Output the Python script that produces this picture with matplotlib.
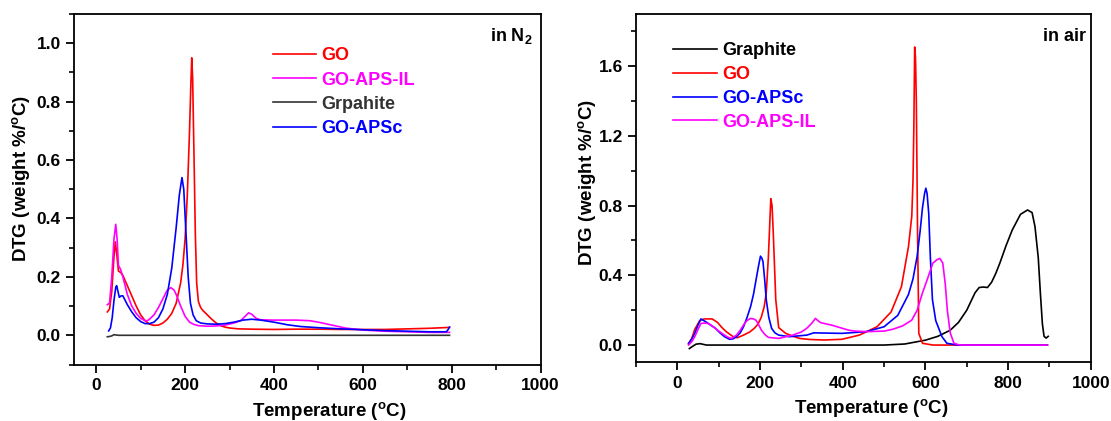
import numpy as np
import matplotlib.pyplot as plt
from matplotlib.ticker import MultipleLocator

plt.rcParams["font.family"] = ["Liberation Sans", "DejaVu Sans"]
plt.rcParams["font.weight"] = "bold"
plt.rcParams["mathtext.fontset"] = "custom"
plt.rcParams["mathtext.rm"] = "Liberation Sans:bold"
plt.rcParams["mathtext.bf"] = "Liberation Sans:bold"
plt.rcParams["mathtext.it"] = "Liberation Sans:bold"
plt.rcParams["mathtext.default"] = "rm"

# ---- in N2 ----
n2_go_t = [25, 30, 35, 40, 43, 46, 50, 55, 60, 70, 80, 90, 100, 110, 120, 130, 140, 150,
           160, 170, 180, 190, 195, 200, 205, 210, 213, 215, 217, 220, 223, 226, 230, 235,
           240, 250, 260, 270, 280, 290, 300, 320, 350, 400, 450, 500, 550, 600, 650, 700,
           750, 795]
n2_go_y = [0.08, 0.09, 0.15, 0.27, 0.32, 0.28, 0.22, 0.215, 0.205, 0.17, 0.135, 0.10, 0.07,
           0.05, 0.038, 0.034, 0.035, 0.042, 0.055, 0.075, 0.11, 0.18, 0.24, 0.33, 0.48, 0.70,
           0.86, 0.95, 0.88, 0.62, 0.35, 0.18, 0.115, 0.095, 0.085, 0.07, 0.055, 0.042, 0.033,
           0.028, 0.025, 0.022, 0.021, 0.02, 0.021, 0.021, 0.02, 0.02, 0.02, 0.022, 0.024, 0.027]

n2_il_t = [25, 30, 35, 40, 44, 47, 50, 55, 60, 65, 70, 80, 90, 100, 110, 115, 120, 130, 140,
           150, 160, 168, 175, 180, 190, 200, 210, 220, 230, 250, 270, 290, 310, 325, 335, 343,
           350, 360, 370, 400, 450, 480, 500, 530, 560, 600, 650, 700, 750, 795]
n2_il_y = [0.105, 0.11, 0.20, 0.33, 0.38, 0.33, 0.24, 0.225, 0.20, 0.17, 0.14, 0.10, 0.075,
           0.058, 0.05, 0.05, 0.055, 0.07, 0.095, 0.125, 0.155, 0.163, 0.155, 0.14, 0.10, 0.065,
           0.045, 0.037, 0.033, 0.031, 0.032, 0.035, 0.042, 0.05, 0.065, 0.077, 0.072, 0.058,
           0.053, 0.052, 0.052, 0.05, 0.045, 0.035, 0.025, 0.018, 0.014, 0.012, 0.01, 0.01]

n2_gr_t = [25, 30, 35, 40, 45, 50, 100, 200, 400, 600, 795]
n2_gr_y = [-0.005, -0.004, -0.002, 0.002, 0.001, 0.0, 0.0, 0.0, 0.0, 0.0, 0.0]

n2_apsc_t = [28, 32, 36, 40, 44, 46, 49, 52, 56, 60, 65, 70, 80, 90, 100, 110, 120, 130, 140,
             150, 160, 170, 180, 187, 193, 197, 202, 207, 212, 218, 225, 235, 250, 270, 290,
             310, 330, 350, 370, 400, 430, 460, 500, 550, 600, 650, 700, 750, 788, 792, 795]
n2_apsc_y = [0.015, 0.025, 0.06, 0.12, 0.165, 0.17, 0.15, 0.13, 0.135, 0.135, 0.12, 0.105,
             0.08, 0.06, 0.047, 0.04, 0.04, 0.045, 0.06, 0.09, 0.14, 0.23, 0.37, 0.48, 0.54,
             0.50, 0.35, 0.20, 0.11, 0.07, 0.05, 0.042, 0.039, 0.038, 0.04, 0.045, 0.052,
             0.055, 0.052, 0.045, 0.036, 0.03, 0.026, 0.022, 0.019, 0.016, 0.014, 0.012, 0.012,
             0.02, 0.028]

# ---- in air ----
air_gr_t = [29, 35, 45, 55, 70, 100, 200, 300, 400, 500, 550, 600, 630, 660, 680, 690, 700,
            710, 720, 730, 740, 750, 760, 770, 780, 795, 810, 830, 847, 858, 865, 873, 878,
            883, 887, 892, 897]
air_gr_y = [-0.02, -0.01, 0.005, 0.008, 0.0, 0.0, 0.0, 0.0, 0.0, 0.0, 0.006, 0.028, 0.05,
            0.085, 0.13, 0.165, 0.20, 0.25, 0.30, 0.33, 0.333, 0.33, 0.36, 0.41, 0.47, 0.57,
            0.66, 0.75, 0.775, 0.76, 0.68, 0.50, 0.30, 0.12, 0.05, 0.04, 0.05]

air_go_t = [27, 35, 42, 54, 65, 84, 97, 108, 118, 135, 145, 160, 175, 186, 195, 203, 210, 215,
            220, 226, 229, 232, 235, 238, 245, 262, 280, 296, 320, 355, 398, 440, 483, 517,
            542, 559, 567, 570, 572, 574, 576, 578, 581, 584, 593, 618, 700, 800, 895]
air_go_y = [0.006, 0.04, 0.09, 0.14, 0.15, 0.15, 0.13, 0.10, 0.077, 0.048, 0.042, 0.057, 0.075,
            0.096, 0.12, 0.16, 0.22, 0.30, 0.50, 0.84, 0.80, 0.64, 0.45, 0.26, 0.10, 0.067,
            0.05, 0.038, 0.032, 0.029, 0.033, 0.057, 0.105, 0.19, 0.335, 0.565, 0.74, 0.95,
            1.25, 1.71, 1.65, 1.40, 0.64, 0.067, 0.01, 0.0, 0.0, 0.0, 0.0]

air_apsc_t = [27, 35, 42, 50, 57, 64, 71, 80, 92, 103, 114, 126, 135, 143, 152, 160, 168, 177,
              184, 190, 196, 201, 204, 207, 211, 215, 221, 228, 236, 245, 271, 313, 330, 398,
              457, 500, 533, 559, 570, 580, 587, 593, 598, 601, 604, 608, 612, 617, 625, 640,
              652, 678, 750, 895]
air_apsc_y = [0.01, 0.035, 0.067, 0.115, 0.15, 0.14, 0.13, 0.115, 0.096, 0.07, 0.048, 0.033,
              0.036, 0.048, 0.07, 0.105, 0.155, 0.22, 0.29, 0.37, 0.45, 0.51, 0.50, 0.48, 0.38,
              0.26, 0.16, 0.095, 0.07, 0.057, 0.048, 0.057, 0.07, 0.067, 0.077, 0.105, 0.17,
              0.29, 0.38, 0.51, 0.65, 0.79, 0.87, 0.90, 0.87, 0.755, 0.50, 0.26, 0.14, 0.048,
              0.01, 0.0, 0.0, 0.0]

air_il_t = [27, 35, 42, 50, 57, 66, 75, 84, 92, 103, 114, 122, 131, 143, 152, 160, 168, 177,
            184, 190, 197, 203, 212, 220, 245, 279, 300, 313, 325, 334, 340, 347, 372, 415, 430,
            457, 500, 520, 545, 567, 580, 593, 605, 618, 628, 635, 642, 648, 653, 660, 669, 680,
            690, 750, 895]
air_il_y = [0.0, 0.02, 0.048, 0.09, 0.124, 0.126, 0.124, 0.11, 0.096, 0.075, 0.057, 0.045,
            0.038, 0.057, 0.085, 0.115, 0.14, 0.153, 0.15, 0.143, 0.115, 0.086, 0.06, 0.044,
            0.038, 0.057, 0.075, 0.096, 0.125, 0.153, 0.14, 0.128, 0.115, 0.085, 0.08, 0.077,
            0.08, 0.09, 0.11, 0.143, 0.2, 0.30, 0.38, 0.47, 0.49, 0.497, 0.47, 0.35, 0.20, 0.07,
            0.01, 0.002, 0.0, 0.0, 0.0]

RED, MAG, BLUE, BLACK = "#ff0000", "#ff00ff", "#0000ff", "#000000"

fig = plt.figure(figsize=(11.11, 4.21), dpi=100)
ax1 = fig.add_axes([0.0666, 0.1342, 0.420, 0.8325])
ax2 = fig.add_axes([0.5725, 0.139, 0.4093, 0.828])

lw = 1.2
ax1.plot(n2_go_t, n2_go_y, color=RED, lw=lw, label="GO")
ax1.plot(n2_il_t, n2_il_y, color=MAG, lw=lw, label="GO-APS-IL")
ax1.plot(n2_gr_t, n2_gr_y, color="#333333", lw=lw, label="Grpahite")
ax1.plot(n2_apsc_t, n2_apsc_y, color=BLUE, lw=lw, label="GO-APSc")

ax2.plot(air_gr_t, air_gr_y, color=BLACK, lw=lw, label="Graphite")
ax2.plot(air_go_t, air_go_y, color=RED, lw=lw, label="GO")
ax2.plot(air_apsc_t, air_apsc_y, color=BLUE, lw=lw, label="GO-APSc")
ax2.plot(air_il_t, air_il_y, color=MAG, lw=lw, label="GO-APS-IL")

ax1.set_xlim(-50, 1000)
ax1.set_ylim(-0.1, 1.1)
ax1.xaxis.set_major_locator(MultipleLocator(200))
ax1.xaxis.set_minor_locator(MultipleLocator(100))
ax1.yaxis.set_major_locator(MultipleLocator(0.2))
ax1.yaxis.set_minor_locator(MultipleLocator(0.1))

ax2.set_xlim(-100, 1000)
ax2.set_ylim(-0.1, 1.9)
ax2.xaxis.set_major_locator(MultipleLocator(200))
ax2.xaxis.set_minor_locator(MultipleLocator(100))
ax2.yaxis.set_major_locator(MultipleLocator(0.4))
ax2.yaxis.set_minor_locator(MultipleLocator(0.2))

for ax in (ax1, ax2):
    for sp in ax.spines.values():
        sp.set_linewidth(1.3)
    ax.tick_params(which="major", direction="out", length=6, width=1.3, labelsize=12.5)
    ax.tick_params(which="minor", direction="out", length=3.5, width=1.2)
    ax.set_xlabel(r"Temperature ($^{o}$C)", fontsize=13.5, fontweight="bold")
    ax.set_ylabel(r"DTG (weight %/$^{o}$C)", fontsize=13.5, fontweight="bold")
    ax.yaxis.set_major_formatter(plt.FormatStrFormatter("%.1f"))

ax1.xaxis.set_label_coords(0.546, -0.1)
ax2.xaxis.set_label_coords(0.517, -0.1)
ax1.yaxis.set_label_coords(-0.09, 0.53)
ax2.yaxis.set_label_coords(-0.084, 0.515)

ax1.legend(loc="upper left", bbox_to_anchor=(0.426, 0.905), frameon=False, fontsize=13,
           labelcolor="linecolor", handlelength=2.4, handletextpad=0.3, labelspacing=0.4,
           borderpad=0, borderaxespad=0)
ax2.legend(loc="upper left", bbox_to_anchor=(0.082, 0.918), frameon=False, fontsize=13,
           labelcolor="linecolor", handlelength=2.4, handletextpad=0.3, labelspacing=0.37,
           borderpad=0, borderaxespad=0)

ax1.text(0.983, 0.938, r"in N$_{2}$", transform=ax1.transAxes, ha="right", va="center",
         fontsize=13, fontweight="bold")
ax2.text(0.989, 0.934, "in air", transform=ax2.transAxes, ha="right", va="center",
         fontsize=13, fontweight="bold")

fig.savefig("out.png", dpi=100)
